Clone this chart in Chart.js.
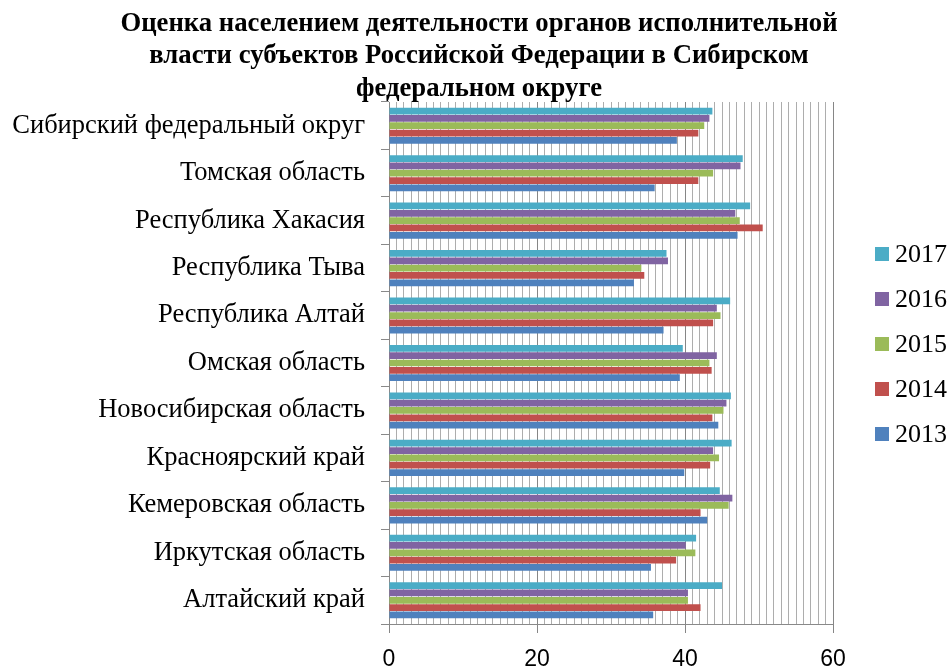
<!DOCTYPE html>
<html><head><meta charset="utf-8">
<style>html,body{margin:0;padding:0;background:#fff}#wrap{width:949px;height:668px}</style>
<script src="https://cdn.jsdelivr.net/npm/chart.js@4"></script>
</head><body><div id="wrap"><canvas id="c" width="949" height="668"></canvas></div>
<script>
const titleLines = [
  'Оценка населением деятельности органов исполнительной',
  'власти субъектов Российской Федерации в Сибирском',
  'федеральном округе'
];
const categories = [
  'Сибирский федеральный округ',
  'Томская область',
  'Республика Хакасия',
  'Республика Тыва',
  'Республика Алтай',
  'Омская область',
  'Новосибирская область',
  'Красноярский край',
  'Кемеровская область',
  'Иркутская область',
  'Алтайский край'
];
const seriesNames = ['2017', '2016', '2015', '2014', '2013'];
const values2017 = [43.7, 47.8, 48.8, 37.5, 46.1, 39.7, 46.2, 46.3, 44.7, 41.5, 45.0];
const values2016 = [43.3, 47.5, 46.8, 37.7, 44.3, 44.3, 45.6, 43.8, 46.4, 40.1, 40.4];
const values2015 = [42.6, 43.8, 47.4, 34.1, 44.8, 43.3, 45.2, 44.6, 45.9, 41.4, 40.4];
const values2014 = [41.8, 41.8, 50.5, 34.5, 43.8, 43.6, 43.7, 43.4, 42.1, 38.8, 42.1];
const values2013 = [38.9, 35.9, 47.1, 33.1, 37.1, 39.3, 44.5, 39.9, 43.0, 35.4, 35.7];
const xMin = 0, xMax = 60, xStep = 1, xLabelStep = 20;

const seriesValues = [values2017, values2016, values2015, values2014, values2013];
const seriesColors = ['#4BACC6', '#8064A2', '#9BBB59', '#C0504D', '#4F81BD'];

const decor = {
  id: 'decor',
  afterDraw(chart) {
    const ctx = chart.ctx;
    ctx.save();
    ctx.fillStyle = '#000';
    ctx.font = 'bold 26.7px "Liberation Serif"';
    ctx.textAlign = 'center';
    ctx.textBaseline = 'middle';
    titleLines.forEach((t, i) => ctx.fillText(t, 479, 24 + i * 32.5));
    ctx.font = '26px "Liberation Serif"';
    chart.data.datasets.forEach((ds, i) => {
      const y = 254 + i * 45;
      ctx.fillStyle = ds.backgroundColor;
      ctx.fillRect(875, y - 7, 14, 14);
      ctx.fillStyle = '#000';
      ctx.textAlign = 'left';
      ctx.fillText(ds.label, 895, y + 1);
    });
    ctx.restore();
  }
};

new Chart(document.getElementById('c'), {
  type: 'bar',
  data: {
    labels: categories,
    datasets: seriesNames.map((n, i) => ({
      label: n,
      data: seriesValues[i],
      backgroundColor: seriesColors[i],
      borderWidth: 0,
      barPercentage: 0.92,
      categoryPercentage: 0.773
    }))
  },
  options: {
    indexAxis: 'y',
    responsive: false,
    animation: false,
    devicePixelRatio: 1,
    layout: { padding: { top: 102, right: 116, left: 0, bottom: 0 } },
    plugins: { legend: { display: false }, title: { display: false }, tooltip: { enabled: false } },
    scales: {
      x: {
        type: 'linear',
        min: xMin, max: xMax,
        afterFit(s) { s.height = 44; },
        border: { display: true, color: '#898989', width: 1 },
        grid: {
          color: c => (c.tick && c.tick.value % xLabelStep === 0) ? '#868686' : '#adadad',
          tickColor: c => (c.tick && c.tick.value % xLabelStep === 0) ? '#868686' : 'rgba(0,0,0,0)',
          lineWidth: 1,
          tickLength: 9,
          drawTicks: true
        },
        ticks: {
          stepSize: xStep,
          maxTicksLimit: 1000,
          autoSkip: false,
          maxRotation: 0,
          padding: 13,
          color: '#000',
          font: { family: '"Liberation Sans"', size: 23 },
          callback: v => (v % xLabelStep === 0 ? String(v) : '')
        }
      },
      y: {
        type: 'category',
        afterFit(s) { s.width = 389; },
        border: { display: true, color: '#898989', width: 1 },
        grid: {
          drawOnChartArea: false,
          drawTicks: true,
          tickLength: 8,
          color: '#898989',
          offset: true
        },
        ticks: {
          padding: 16,
          color: '#000',
          font: { family: '"Liberation Serif"', size: 26.5 }
        }
      }
    }
  },
  plugins: [decor]
});
</script>
</body></html>
